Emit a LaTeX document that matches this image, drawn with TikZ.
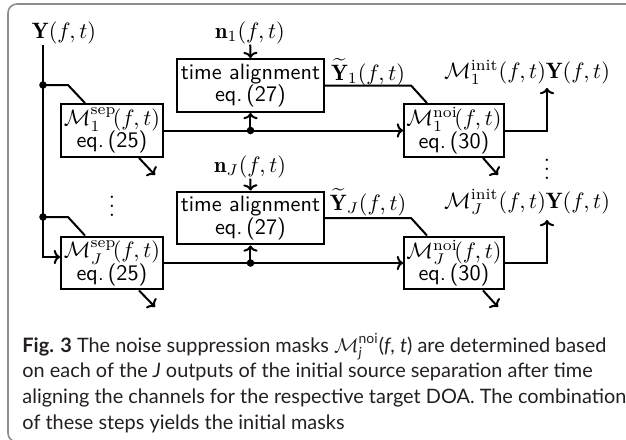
\documentclass[tikz,border=0pt]{standalone}
\usepackage{amsmath,amssymb}
\usepackage{fontspec}
\newfontfamily\capfont{Lato}
\usetikzlibrary{arrows.meta, positioning, calc}
\definecolor{framegray}{RGB}{140,140,140}
\definecolor{captext}{RGB}{35,31,32}

\tikzset{
  blk/.style={draw, line width=0.9pt, font=\sffamily, align=center, inner sep=1pt, minimum height=23.8pt},
  lbl/.style={inner sep=0pt},
  junc/.style={circle, fill, inner sep=0pt, minimum size=3.4pt},
  sig/.style={line width=0.9pt},
  tip/.style={sig, -{To[length=2.8pt,width=6.4pt]}}
}

\begin{document}
\begin{tikzpicture}[x=0.45pt, y=-0.45pt]
  \useasboundingbox (0,0) rectangle (626,440);
  % Frame
  \draw[framegray, line width=0.7pt, rounded corners=4pt] (8,4) rectangle (660,442);
  % Input signal and noise references
  \node[lbl] (ysig) at (64,33) {$\mathbf{Y}(f,t)$};
  \node[lbl] (n1) at (250,33) {$\mathbf{n}_1(f,t)$};
  \node[lbl] (nJ) at (250,167) {$\mathbf{n}_J(f,t)$};
  % Blocks
  \node[blk, minimum width=45.9pt] (msep1) at (112,130.5) {$\mathcal{M}_1^{\mathrm{sep}}\!(f,t)$\\[-2pt]eq.\,(25)};
  \node[blk, minimum width=45.9pt] (msepJ) at (112,263) {$\mathcal{M}_J^{\mathrm{sep}}\!(f,t)$\\[-2pt]eq.\,(25)};
  \node[blk, minimum width=66.2pt] (ta1) at (250.5,85.5) {time alignment\\[-2pt]eq.\,(27)};
  \node[blk, minimum width=66.2pt] (taJ) at (250.5,218) {time alignment\\[-2pt]eq.\,(27)};
  \node[blk, minimum width=45pt] (mnoi1) at (454,130.5) {$\mathcal{M}_1^{\mathrm{noi}}\!(f,t)$\\[-2pt]eq.\,(30)};
  \node[blk, minimum width=45pt] (mnoiJ) at (454,263) {$\mathcal{M}_J^{\mathrm{noi}}\!(f,t)$\\[-2pt]eq.\,(30)};
  % Labels on the right
  \node[lbl] (yt1) at (368,72) {$\widetilde{\mathbf{Y}}_1(f,t)$};
  \node[lbl] (ytJ) at (368,202) {$\widetilde{\mathbf{Y}}_J(f,t)$};
  \node[lbl] (out1) at (527,72) {$\mathcal{M}_1^{\mathrm{init}}(f,t)\mathbf{Y}(f,t)$};
  \node[lbl] (outJ) at (527,202) {$\mathcal{M}_J^{\mathrm{init}}(f,t)\mathbf{Y}(f,t)$};
  \node[lbl] (vd1) at (112,200) {$\vdots$};
  \node[lbl] (vd2) at (547,163) {$\vdots$};
  % Junctions and free ends
  \coordinate (ytop) at (43,45);
  \coordinate (ybot) at (43,257);
  \node[junc] (j1) at (43,85) {};
  \node[junc] (jJ) at (43,217) {};
  \node[junc] (t1) at (ta1.south |- msep1.east) {};
  \node[junc] (tJ) at (taJ.south |- msepJ.east) {};
  \coordinate (o1) at (547,88);
  \coordinate (oJ) at (547,220);
  \coordinate (s1) at (155,175);
  \coordinate (sJ) at (155,307);
  \coordinate (r1) at (498,175);
  \coordinate (rJ) at (498,307);
  % Input distribution
  \draw[tip] (ytop) -- (ybot) -- (ybot -| msepJ.west);
  \draw[sig] (j1.center) -- ++(25,0) -- ($(msep1.north west)+(25,0)$);
  \draw[sig] (jJ.center) -- ++(25,0) -- ($(msepJ.north west)+(25,0)$);
  % Separation outputs
  \draw[tip] (msep1.east) -- (mnoi1.west);
  \draw[tip] (msepJ.east) -- (mnoiJ.west);
  \draw[tip] ($(msep1.south east)+(-25,0)$) -- (s1);
  \draw[tip] ($(msepJ.south east)+(-25,0)$) -- (sJ);
  % Time alignment
  \draw[tip] (n1) -- (ta1.north);
  \draw[tip] (nJ) -- (taJ.north);
  \draw[tip] (t1.center) -- (ta1.south);
  \draw[tip] (tJ.center) -- (taJ.south);
  \draw[sig] (ta1.east) -- ++(86,0) -- ($(mnoi1.north west)+(24,0)$);
  \draw[sig] (taJ.east) -- ++(86,0) -- ($(mnoiJ.north west)+(24,0)$);
  % Noise suppression outputs
  \draw[tip] (mnoi1.east) -| (o1);
  \draw[tip] (mnoiJ.east) -| (oJ);
  \draw[tip] ($(mnoi1.south east)+(-22,0)$) -- (r1);
  \draw[tip] ($(mnoiJ.south east)+(-22,0)$) -- (rJ);
  % Caption (base is the last line)
  \node[anchor=base west, inner sep=0pt, align=left, text=captext,
        font=\capfont\fontsize{8.95pt}{11.5pt}\selectfont] (cap) at (22,429)
    {\textbf{Fig. 3} The noise suppression masks $\mathcal{M}_{\textit{j}}^{\text{noi}}$(\textit{f}, \textit{t}) are determined based\\
     on each of the \textit{J} outputs of the initial source separation after time\\
     aligning the channels for the respective target DOA. The combination\\
     of these steps yields the initial masks};
\end{tikzpicture}
\end{document}
